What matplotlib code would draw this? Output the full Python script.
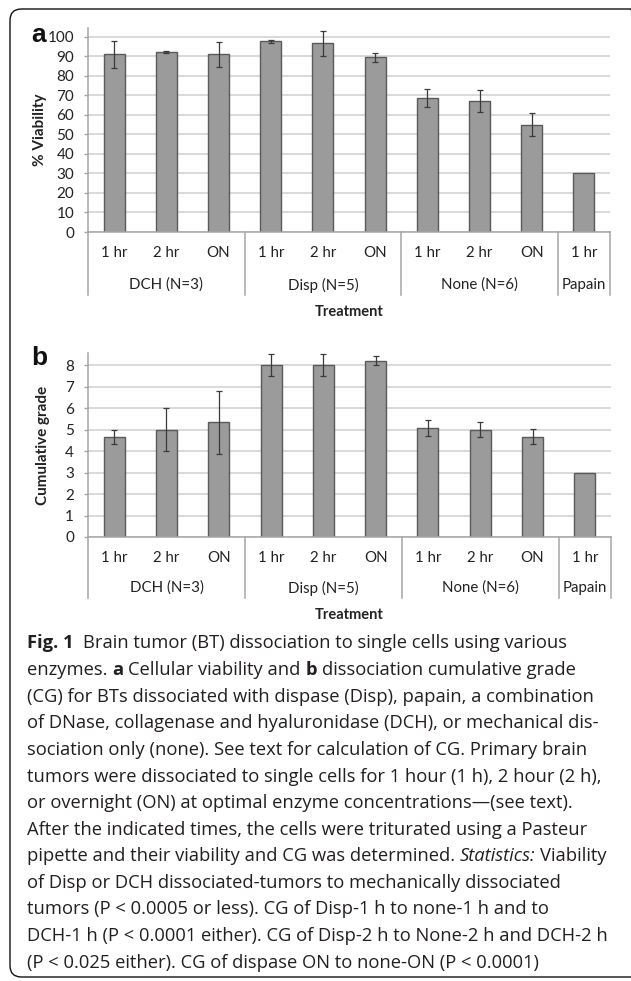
import matplotlib
matplotlib.use("Agg")
import matplotlib.pyplot as plt
from matplotlib.patches import FancyBboxPatch

W, H = 631, 981

# data
times = ["1 hr", "2 hr", "ON", "1 hr", "2 hr", "ON", "1 hr", "2 hr", "ON", "1 hr"]
groups = ["DCH (N=3)", "Disp (N=5)", "None (N=6)", "Papain"]
group_sizes = [3, 3, 3, 1]

viability = [91.1, 92.5, 91.2, 97.7, 96.8, 89.6, 68.6, 67.2, 55.0, 30.0]
viability_err = [7.0, 0.5, 6.4, 0.8, 6.5, 2.2, 4.6, 5.7, 5.8, None]

grade = [4.67, 5.0, 5.33, 8.0, 8.0, 8.2, 5.08, 5.0, 4.67, 3.0]
grade_err = [0.33, 1.0, 1.45, 0.5, 0.5, 0.2, 0.38, 0.34, 0.35, None]

caption = [
    [("Fig. 1", "bold"), ("", "normal"), ("Brain tumor (BT) dissociation to single cells using various", "normal")],
    [("enzymes.", "normal"), ("a", "bold"), ("Cellular viability and", "normal"), ("b", "bold"),
     ("dissociation cumulative grade", "normal")],
    [("(CG) for BTs dissociated with dispase (Disp), papain, a combination", "normal")],
    [("of DNase, collagenase and hyaluronidase (DCH), or mechanical dis-", "normal")],
    [("sociation only (none). See text for calculation of CG. Primary brain", "normal")],
    [("tumors were dissociated to single cells for 1 hour (1 h), 2 hour (2 h),", "normal")],
    [("or overnight (ON) at optimal enzyme concentrations\u2014(see text).", "normal")],
    [("After the indicated times, the cells were triturated using a Pasteur", "normal")],
    [("pipette and their viability and CG was determined.", "normal"), ("Statistics:", "italic"),
     ("Viability", "normal")],
    [("of Disp or DCH dissociated-tumors to mechanically dissociated", "normal")],
    [("tumors (P < 0.0005 or less). CG of Disp-1 h to none-1 h and to", "normal")],
    [("DCH-1 h (P < 0.0001 either). CG of Disp-2 h to None-2 h and DCH-2 h", "normal")],
    [("(P < 0.025 either). CG of dispase ON to none-ON (P < 0.0001)", "normal")],
]

CHART_FONT = "Lato"
CAP_FONT = "Open Sans"
TXT = "#222222"

fig = plt.figure(figsize=(W / 100, H / 100), dpi=100)

# rounded frame round the whole figure (right edge runs off the picture)
frame = FancyBboxPatch((10 / W, 1 - 977 / H), 632 / W, 968 / H,
                       boxstyle="round,pad=0,rounding_size=0.018",
                       transform=fig.transFigure, fill=False, ec="#111111", lw=1.0,
                       mutation_aspect=W / H)
fig.patches.append(frame)


def panel(top, zero, right, ymax, ticks, vals, errs, ylabel, ylab_x, letter, letter_base,
          d1, d2, dsep, dtreat):
    ax = fig.add_axes([88 / W, 1 - zero / H, (right - 88) / W, (zero - top) / H])
    hpx = zero - top
    x = list(range(len(vals)))
    ax.bar(x, vals, width=0.4, color="#9b9b9b", edgecolor="#5a5a5a", lw=1, zorder=2)
    ex = [i for i in x if errs[i] is not None]
    ax.errorbar(ex, [vals[i] for i in ex], yerr=[errs[i] for i in ex], fmt="none",
                ecolor="#3a3a3a", elinewidth=0.9, capsize=2.5, capthick=0.9, zorder=3)
    ax.set_xlim(-0.5, len(vals) - 0.5)
    ax.set_ylim(0, ymax)
    ax.set_yticks(ticks)
    ax.set_yticklabels([str(t) for t in ticks], fontfamily=CHART_FONT, fontsize=11, color=TXT)
    ax.set_xticks([])
    ax.yaxis.grid(True, color="#d9d9d9", lw=1.4)
    ax.set_axisbelow(True)
    for s in ["top", "right"]:
        ax.spines[s].set_visible(False)
    for s in ["left", "bottom"]:
        ax.spines[s].set_color("#a6a6a6")
        ax.spines[s].set_linewidth(1.1)
    ax.tick_params(axis="y", length=3, width=1, color="#a6a6a6", pad=7)

    # two-level category axis
    for i, t in enumerate(times):
        ax.annotate(t, xy=(i, 0), xycoords=("data", "axes fraction"), xytext=(0, -d1 * 0.72),
                    textcoords="offset points", ha="center", va="center",
                    fontfamily=CHART_FONT, fontsize=10.8, color=TXT, annotation_clip=False)
    start = -0.5
    seps = [start]
    for g, n in zip(groups, group_sizes):
        mid = start + n / 2
        ax.annotate(g, xy=(mid, 0), xycoords=("data", "axes fraction"), xytext=(0, -d2 * 0.72),
                    textcoords="offset points", ha="center", va="center",
                    fontfamily=CHART_FONT, fontsize=10.8, color=TXT, annotation_clip=False)
        start += n
        seps.append(start)
    for s in seps:
        ax.plot([s, s], [0, -dsep / hpx], transform=ax.get_xaxis_transform(),
                color="#a6a6a6", lw=1.1, clip_on=False)
    ax.annotate("Treatment", xy=(0.5, 0), xycoords="axes fraction", xytext=(0, -dtreat * 0.72),
                textcoords="offset points", ha="center", va="center", fontweight="bold",
                fontfamily=CHART_FONT, fontsize=10.5, color=TXT, annotation_clip=False)

    fig.text(ylab_x / W, 1 - (top + zero) / 2 / H, ylabel, rotation=90, ha="center", va="center",
             fontfamily=CHART_FONT, fontweight="bold", fontsize=11, color=TXT)
    fig.text(31 / W, 1 - letter_base / H, letter, ha="left", va="baseline",
             fontfamily="Liberation Sans", fontweight="bold", fontsize=19, color="#111111")
    return ax


panel(28, 232, 610, 104.6, list(range(0, 101, 10)), viability, viability_err,
      "% Viability", 40, "a", 41.5, 21, 53, 63, 80)
panel(353, 537, 611, 8.56, list(range(0, 9)), grade, grade_err,
      "Cumulative grade", 43, "b", 365, 21, 51, 61, 78)

# caption, one line at a time, so bold / italic words can sit inside a line
renderer = fig.canvas.get_renderer()


def width_of(s, size, kind):
    t = fig.text(0, 0, s, fontfamily=CAP_FONT, fontsize=size,
                 fontweight="bold" if kind == "bold" else "normal",
                 fontstyle="italic" if kind == "italic" else "normal")
    w = t.get_window_extent(renderer).width
    t.remove()
    return w


cap_size = 13.2
space = width_of("x x", cap_size, "normal") - width_of("xx", cap_size, "normal")
y0, step = 643.5, 26.6
for k, line in enumerate(caption):
    xpos = 27.0
    for j, (s, kind) in enumerate(line):
        if j > 0:
            xpos += space
        if s:
            t = fig.text(xpos / W, 1 - (y0 + k * step) / H, s, ha="left", va="center",
                         fontfamily=CAP_FONT, fontsize=cap_size, color="#231f20",
                         fontweight="bold" if kind == "bold" else "normal",
                         fontstyle="italic" if kind == "italic" else "normal")
            xpos += t.get_window_extent(renderer).width

fig.savefig("out.png", dpi=100)
